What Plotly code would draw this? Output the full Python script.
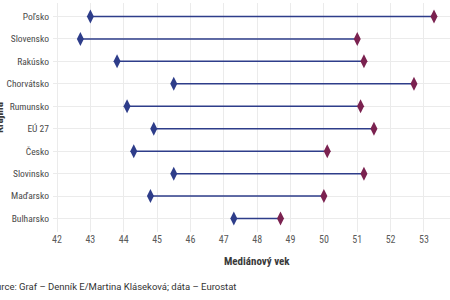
import plotly.graph_objects as go

countries = ["Poľsko", "Slovensko", "Rakúsko", "Chorvátsko", "Rumunsko",
             "EÚ 27", "Česko", "Slovinsko", "Maďarsko", "Bulharsko"]
start_vals = [43.0, 42.7, 43.8, 45.5, 44.1, 44.9, 44.3, 45.5, 44.8, 47.3]
end_vals = [53.3, 51.0, 51.2, 52.7, 51.1, 51.5, 50.1, 51.2, 50.0, 48.7]
x_ticks = list(range(42, 54))

BLUE = "#2e3d8a"
RED = "#7b2250"
FONT = "Liberation Sans Narrow, Roboto Condensed, DejaVu Sans Condensed, Roboto"

W, H = 450, 300
L, R, T, B = 53, 0, 2.5, 67.5
pw = W - L - R
ph = H - T - B

line_x, line_y = [], []
for c, a, b in zip(countries, start_vals, end_vals):
    line_x += [a, b, None]
    line_y += [c, c, None]

fig = go.Figure()
fig.add_trace(go.Scatter(x=line_x, y=line_y, mode="lines",
                         line=dict(color=BLUE, width=1.5),
                         hoverinfo="skip", showlegend=False))
fig.add_trace(go.Scatter(x=start_vals, y=countries, mode="markers",
                         marker=dict(symbol="diamond-tall", size=10, color=BLUE),
                         showlegend=False))
fig.add_trace(go.Scatter(x=end_vals, y=countries, mode="markers",
                         marker=dict(symbol="diamond-tall", size=10, color=RED),
                         showlegend=False))

def px_x(p):
    return (p - L) / pw

def px_y(p):
    return (H - B - p) / ph

fig.update_layout(
    width=W, height=H,
    margin=dict(l=L, r=R, t=T, b=B, pad=0),
    paper_bgcolor="white", plot_bgcolor="white",
    font=dict(family=FONT, size=10, color="#4d4d4d"),
    xaxis=dict(range=[41.88, 53.78], tickvals=x_ticks,
               ticktext=[str(v) for v in x_ticks],
               showgrid=True, gridcolor="#ebebeb", gridwidth=1,
               zeroline=False, showline=False, ticks="",
               tickfont=dict(size=10, color="#5a5a5a")),
    yaxis=dict(type="category", categoryorder="array", categoryarray=countries,
               range=[9.6, -0.6], showgrid=True, gridcolor="#ebebeb",
               gridwidth=1, zeroline=False, showline=False, ticks="",
               ticklabelstandoff=3,
               tickfont=dict(size=9.5, color="#4a4a4a")),
    annotations=[
        dict(text="<b>Mediánový vek</b>", xref="paper", yref="paper",
             x=px_x(257), y=px_y(262), xanchor="center", yanchor="middle",
             showarrow=False, font=dict(size=11, color="#3a3a3a")),
        dict(text="Source: Graf – Denník E/Martina Kláseková; dáta – Eurostat",
             xref="paper", yref="paper", x=px_x(-17), y=px_y(287),
             xanchor="left", yanchor="middle", showarrow=False,
             font=dict(family="Roboto", size=9.5, color="#333333")),
        dict(text="<b>Krajina</b>", xref="paper", yref="paper",
             x=px_x(-1), y=px_y(117), xanchor="center", yanchor="middle",
             textangle=-90, showarrow=False,
             font=dict(size=11, color="#3a3a3a")),
    ],
)

fig.write_html("out.html")
